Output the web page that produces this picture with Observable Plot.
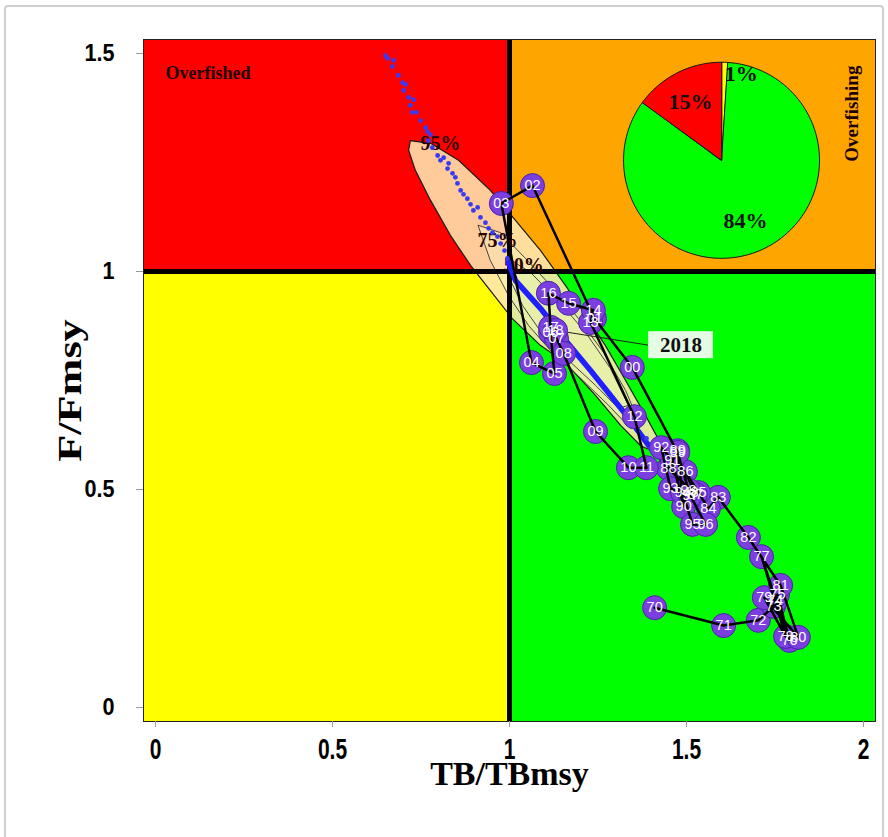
<!DOCTYPE html>
<html><head><meta charset="utf-8">
<script src="https://cdn.jsdelivr.net/npm/d3@7"></script>
<script src="https://cdn.jsdelivr.net/npm/@observablehq/plot@0.6"></script>
<style>
body{margin:0;background:#fff;}
#wrap{position:relative;width:888px;height:837px;overflow:hidden;}
#border{position:absolute;left:4px;top:5px;width:876px;height:880px;border:2px solid #cfcfcf;border-radius:4px;}
#wrap svg{position:absolute;left:0;top:0;}
</style></head><body><div id="wrap"><div id="border"></div></div>
<script>
// ---- data ----
const years = ["70","71","72","73","74","75","76","77","78","79","80","81","82","83","84","85","86","87","88","89","90","91","92","93","94","95","96","97","98","99","00","01","02","03","04","05","06","07","08","09","10","11","12","13","14","15","16","17","18"];
const tbRatio = [1.410,1.605,1.703,1.746,1.751,1.757,1.791,1.712,1.780,1.720,1.816,1.766,1.675,1.590,1.562,1.534,1.497,1.525,1.449,1.475,1.492,1.460,1.429,1.455,1.489,1.517,1.554,1.511,1.506,1.475,1.347,1.240,1.065,0.977,1.062,1.127,1.116,1.133,1.153,1.243,1.336,1.387,1.353,1.229,1.237,1.167,1.110,1.116,1.130];
const fRatio = [0.229,0.188,0.200,0.232,0.245,0.259,0.154,0.346,0.163,0.252,0.161,0.280,0.390,0.482,0.456,0.493,0.541,0.489,0.548,0.589,0.461,0.567,0.596,0.502,0.493,0.420,0.420,0.486,0.498,0.585,0.780,0.892,1.197,1.156,0.791,0.766,0.860,0.846,0.812,0.633,0.550,0.550,0.667,0.883,0.911,0.927,0.950,0.872,0.865];

// projection / posterior cloud of final year
const cloudB = [0.650,0.655,0.672,0.669,0.686,0.698,0.706,0.701,0.715,0.729,0.720,0.726,0.737,0.749,0.763,0.768,0.777,0.771,0.782,0.797,0.805,0.814,0.828,0.825,0.839,0.847,0.853,0.862,0.870,0.881,0.890,0.898,0.910,0.918,0.932,0.941,0.952,0.966,0.975,0.986,0.994,1.387,1.398];
const cloudF = [1.495,1.489,1.484,1.470,1.450,1.433,1.429,1.415,1.399,1.394,1.381,1.365,1.365,1.346,1.330,1.321,1.314,1.300,1.284,1.266,1.255,1.261,1.248,1.236,1.225,1.216,1.202,1.186,1.177,1.167,1.154,1.140,1.147,1.124,1.112,1.099,1.089,1.080,1.064,1.048,1.030,0.617,0.594];
const bandB = [0.997,1.017,1.088,1.158,1.229,1.285,1.342,1.393];
const bandF = [1.021,0.979,0.915,0.842,0.773,0.716,0.658,0.601];

// confidence contours
const c95B = [0.720,0.777,0.856,0.946,1.017,1.088,1.158,1.215,1.271,1.328,1.384,1.427,1.412,1.370,1.314,1.243,1.158,1.088,1.008,0.946,0.890,0.833,0.777,0.734,0.715];
const c95F = [1.300,1.294,1.255,1.186,1.117,1.048,0.968,0.899,0.830,0.750,0.670,0.606,0.585,0.601,0.647,0.716,0.791,0.830,0.892,0.956,1.014,1.083,1.163,1.232,1.278];
const c75B = [0.912,0.975,1.045,1.116,1.195,1.266,1.328,1.370,1.342,1.280,1.201,1.121,1.054,0.997,0.946];
const c75F = [1.106,1.089,1.030,0.968,0.892,0.814,0.727,0.647,0.640,0.693,0.755,0.814,0.876,0.945,1.025];
const c50B = [0.997,1.059,1.138,1.215,1.285,1.336,1.308,1.243,1.167,1.096,1.037,1.003];
const c50F = [1.030,0.998,0.933,0.860,0.778,0.693,0.686,0.739,0.796,0.853,0.922,0.979];
const contourLabels = ["95%","75%","50%"];
const contourLabelB = [0.805,0.966,1.040];
const contourLabelF = [1.294,1.071,1.014];

// quadrants
const quadNames = ["Overfished","Overfishing","Recovering","Sustainable"];
const quadColors = ["#ff0000","#ffa500","#ffff00","#00ff00"];

// pie of final-year status probabilities (clockwise from 12 o'clock)
const pieLabels = ["1%","84%","15%"];
const pieValues = [1,84,15];
const pieColors = ["#ffff00","#00ff00","#ff0000"];
const pieLabelB = [1.655,1.667,1.511];
const pieLabelF = [1.454,1.117,1.388];

// axes
const xTicks = [0,0.5,1,1.5,2];
const xTickLabels = ["0","0.5","1","1.5","2"];
const yTicks = [0,0.5,1,1.5];
const yTickLabels = ["0","0.5","1","1.5"];
const xTitle = "TB/TBmsy";
const yTitle = "F/Fmsy";
const lastYearLabel = "2018";

// ---- build ----
const XD = [-0.034, 2.034], YD = [-0.032, 1.532];
const quads = quadNames.map((n,i)=>({n, fill:quadColors[i],
  x1: i%2===0 ? -0.2 : 1, x2: i%2===0 ? 1 : 2.2,
  y1: i<2 ? 1 : -0.2, y2: i<2 ? 1.7 : 1}));
const traj = years.map((lab,i)=>({lab, x:tbRatio[i], y:fRatio[i]}));
const cloud = cloudB.map((x,i)=>({x, y:cloudF[i]}));
const band = bandB.map((x,i)=>({x, y:bandF[i]}));
const poly = (B,F)=>B.map((x,i)=>({x, y:F[i]}));
const PIE = {cx:1.599, cy:1.255, rx:0.2768, ry:0.2248};
const arcs = d3.pie().sort(null).startAngle(0).endAngle(2*Math.PI)(pieValues);
const slices = arcs.map((a,i)=>{
  const pts=[{x:PIE.cx,y:PIE.cy}];
  const n=Math.max(2,Math.ceil((a.endAngle-a.startAngle)/0.02));
  for(let k=0;k<=n;k++){const t=a.startAngle+(a.endAngle-a.startAngle)*k/n;
    pts.push({x:PIE.cx+PIE.rx*Math.sin(t), y:PIE.cy+PIE.ry*Math.cos(t)});}
  return {pts, fill:pieColors[i]};
});
const last = traj[traj.length-1];
const labelBox = {x1:1.393, x2:1.576, y1:0.800, y2:0.862};

const serif = "'Liberation Serif','Times New Roman',serif";
const chart = Plot.plot({
  width: 888, height: 837,
  marginLeft: 143, marginRight: 13, marginTop: 39, marginBottom: 116,
  x: {domain: XD}, y: {domain: YD},
  style: {background:"transparent", overflow:"visible"},
  marks: [
    Plot.rect(quads, {x1:"x1", x2:"x2", y1:"y1", y2:"y2", fill:"fill", clip:true}),
    Plot.line(poly(c95B,c95F), {x:"x", y:"y", curve:"linear-closed", fill:"#ffe7b0", fillOpacity:0.88, stroke:"#1a1a1a", strokeWidth:1.2}),
    Plot.line(poly(c75B,c75F), {x:"x", y:"y", curve:"linear-closed", fill:"#f4f8c0", fillOpacity:0.35, stroke:"#333", strokeWidth:0.9}),
    Plot.line(poly(c50B,c50F), {x:"x", y:"y", curve:"linear-closed", fill:"none", stroke:"#333", strokeWidth:0.9}),
    Plot.ruleX([1], {stroke:"black", strokeWidth:5}),
    Plot.ruleY([1], {stroke:"black", strokeWidth:5}),
    Plot.text(contourLabels, {x:(d,i)=>contourLabelB[i], y:(d,i)=>contourLabelF[i], text:d=>d, fontFamily:serif, fontWeight:"bold", fontSize:20, fill:"#2a0000"}),
    Plot.line(band, {x:"x", y:"y", stroke:"#1f1fff", strokeWidth:5.5}),
    Plot.dot(cloud, {x:"x", y:"y", r:2.4, fill:"#3a3af0", stroke:"none"}),
    Plot.link([last], {x1:"x", y1:"y", x2:()=>labelBox.x1, y2:()=>(labelBox.y1+labelBox.y2)/2, stroke:"#222", strokeWidth:1}),
    Plot.dot(traj, {x:"x", y:"y", r:12, fill:"#7b3fe0", stroke:"#4a22a8", strokeWidth:1}),
    Plot.line(traj, {x:"x", y:"y", stroke:"black", strokeWidth:2.5}),
    Plot.text(traj, {x:"x", y:"y", text:"lab", fill:"white", fontSize:14.5, fontFamily:"'Liberation Sans',Arial,sans-serif"}),
    Plot.rect([labelBox], {x1:"x1", x2:"x2", y1:"y1", y2:"y2", fill:"#e4fbe4"}),
    Plot.text([lastYearLabel], {x:()=>(labelBox.x1+labelBox.x2)/2, y:()=>(labelBox.y1+labelBox.y2)/2, text:d=>d, fontFamily:serif, fontWeight:"bold", fontSize:21, fill:"#111"}),
    ...slices.map(s=>Plot.line(s.pts, {x:"x", y:"y", curve:"linear-closed", fill:s.fill, stroke:"#111", strokeWidth:1})),
    Plot.text(pieLabels, {x:(d,i)=>pieLabelB[i], y:(d,i)=>pieLabelF[i], text:d=>d, fontFamily:serif, fontWeight:"bold", fontSize:22, fill:"#111"}),
    Plot.text([quadNames[0]], {x:()=>0.028, y:()=>1.454, text:d=>d, textAnchor:"start", fontFamily:serif, fontWeight:"bold", fontSize:18, fill:"#1a0000"}),
    Plot.text([quadNames[1]], {x:()=>1.966, y:()=>1.362, text:d=>d, rotate:-90, fontFamily:serif, fontWeight:"bold", fontSize:19, fill:"#1a0000"}),
    Plot.frame({stroke:"#222", strokeWidth:1}),
    Plot.axisX({ticks:xTicks, tickFormat:d=>xTickLabels[xTicks.indexOf(d)], tickSize:6, tickPadding:10, stroke:"#999", fill:"#000", fontSize:30, fontWeight:"bold", fontFamily:"'Liberation Sans Narrow','Liberation Sans',Arial,sans-serif", label:null}),
    Plot.axisY({ticks:yTicks, tickFormat:d=>yTickLabels[yTicks.indexOf(d)], tickSize:7, tickPadding:22, stroke:"#999", fill:"#000", fontSize:24, fontWeight:"bold", fontFamily:"'Liberation Sans',Arial,sans-serif", label:null}),
    Plot.text([xTitle], {frameAnchor:"bottom", dy:63, text:d=>d, fontFamily:serif, fontWeight:"bold", fontSize:34, fill:"#000"}),
    Plot.text([yTitle], {frameAnchor:"left", dx:-73, dy:10, rotate:-90, textAnchor:"middle", text:d=>d, fontFamily:serif, fontWeight:"bold", fontSize:34, fill:"#000"})
  ]
});
document.getElementById("wrap").appendChild(chart);

// compress/stretch text along its own direction to match the reference's distorted glyphs
function stretch(el, f){
  const tr = el.getAttribute("transform") || "";
  el.setAttribute("transform", tr + ` scale(${f},1)`);
  const x = el.getAttribute("x"); if (x!=null) el.setAttribute("x", parseFloat(x)/f);
  const dx = el.getAttribute("dx"); if (dx!=null && !isNaN(parseFloat(dx))) el.setAttribute("dx", parseFloat(dx)/f);
}
chart.querySelectorAll("text").forEach(t=>{
  const s=t.textContent;
  const fs=t.closest("[font-size]")?.getAttribute("font-size");
  if (xTickLabels.includes(s) && fs==="30") stretch(t,0.7);
  else if (yTickLabels.includes(s) && fs==="24") stretch(t,0.9);
  else if (s===yTitle) stretch(t,1.3);
});
</script></body></html>
